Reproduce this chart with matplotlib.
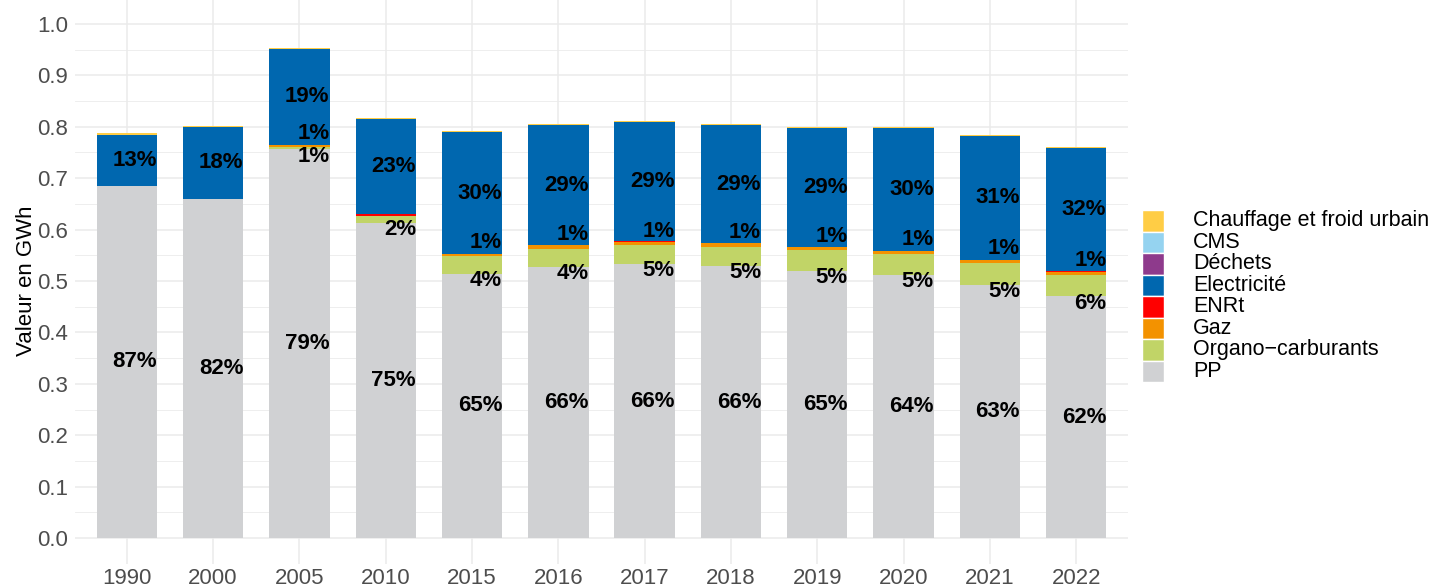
import numpy as np
import matplotlib
matplotlib.use("Agg")
import matplotlib.pyplot as plt
from matplotlib.patches import Rectangle

plt.rcParams['font.family'] = ['Liberation Sans', 'DejaVu Sans']

# data (GWh)
years = ['1990', '2000', '2005', '2010', '2015', '2016', '2017', '2018', '2019', '2020', '2021', '2022']
pp = [0.685, 0.659, 0.756, 0.613, 0.514, 0.527, 0.533, 0.529, 0.519, 0.512, 0.492, 0.470]
organo = [0.0, 0.001, 0.004, 0.014, 0.034, 0.035, 0.037, 0.038, 0.041, 0.041, 0.043, 0.042]
gaz = [0.0, 0.0, 0.005, 0.0, 0.005, 0.008, 0.005, 0.006, 0.006, 0.006, 0.006, 0.006]
enrt = [0.0, 0.0, 0.0, 0.003, 0.0, 0.0, 0.002, 0.0, 0.0, 0.0, 0.0, 0.002]
elec = [0.100, 0.140, 0.186, 0.186, 0.236, 0.233, 0.233, 0.231, 0.232, 0.239, 0.241, 0.238]
dechets = [0.0] * 12
cms = [0.0] * 12
chauffage = [0.002] * 12

# percentage labels as printed on the chart
pct_pp = [87, 82, 79, 75, 65, 66, 66, 66, 65, 64, 63, 62]
pct_organo = [None, None, 1, 2, 4, 4, 5, 5, 5, 5, 5, 6]
pct_gaz = [None, None, 1, None, 1, 1, 1, 1, 1, 1, 1, 1]
pct_elec = [13, 18, 19, 23, 30, 29, 29, 29, 29, 30, 31, 32]

series = [
    ("PP", pp, "#D0D1D3"),
    ("Organo\u2212carburants", organo, "#C1D467"),
    ("Gaz", gaz, "#F39200"),
    ("ENRt", enrt, "#FF0000"),
    ("Electricit\u00e9", elec, "#0067AF"),
    ("D\u00e9chets", dechets, "#8E3A8C"),
    ("CMS", cms, "#95D3F0"),
    ("Chauffage et froid urbain", chauffage, "#FFCD45"),
]

W, H = 1435, 586
fig = plt.figure(figsize=(W / 100, H / 100), dpi=100)
ax = fig.add_axes([75 / W, 22.3 / H, 1053 / W, 565.4 / H])

x = np.arange(len(years))
width = 0.7
bottom = np.zeros(len(years))
tops = {}
for name, vals, col in series:
    vals = np.array(vals)
    ax.bar(x, vals, width, bottom=bottom, color=col, linewidth=0, zorder=2)
    tops[name] = bottom + vals
    bottom = bottom + vals

# labels, right aligned on the bar edge
lab_kw = dict(ha='right', fontsize=16, fontweight='bold', color='black', zorder=3)
xr = x + width / 2
for i in range(len(years)):
    ax.text(xr[i], pp[i] / 2, f"{pct_pp[i]}%", va='center', **lab_kw)
    base_e = tops["ENRt"][i]
    ax.text(xr[i], base_e + elec[i] / 2, f"{pct_elec[i]}%", va='center', **lab_kw)
    if pct_organo[i]:
        ax.text(xr[i], pp[i] - 0.013, f"{pct_organo[i]}%", va='center', **lab_kw)
    if pct_gaz[i]:
        ax.text(xr[i], tops["Gaz"][i] + 0.001, f"{pct_gaz[i]}%", va='bottom', **lab_kw)

ax.set_xlim(-0.6, len(years) - 0.4)
ax.set_ylim(-0.05, 1.05)
ax.set_xticks(x)
ax.set_xticklabels(years)
ax.set_yticks(np.arange(0, 1.01, 0.1))
ax.set_yticklabels([f"{v:.1f}" for v in np.arange(0, 1.01, 0.1)])
ax.set_yticks(np.arange(0.05, 1.0, 0.1), minor=True)
ax.tick_params(axis='both', which='both', length=0, labelsize=16, labelcolor='#4D4D4D')
ax.tick_params(axis='x', pad=3)
ax.tick_params(axis='y', pad=5)
ax.grid(True, which='major', color='#EBEBEB', linewidth=1.1, zorder=0)
ax.grid(True, which='minor', axis='y', color='#EBEBEB', linewidth=0.6, zorder=0)
ax.set_axisbelow(True)
for s in ax.spines.values():
    s.set_visible(False)
ax.set_ylabel("Valeur en GWh", fontsize=16, color='black', labelpad=0)

# legend drawn by hand, ggplot style
lx0, ly0, lx1, ly1 = 1142, 210, 1435, 382
lax = fig.add_axes([lx0 / W, (H - ly1) / H, (lx1 - lx0) / W, (ly1 - ly0) / H])
lax.set_xlim(0, lx1 - lx0)
lax.set_ylim(0, len(series))
lax.axis('off')
for k, (name, vals, col) in enumerate(reversed(series)):
    row = len(series) - 1 - k
    lax.add_patch(Rectangle((0, row), 22, 1, facecolor=col, edgecolor='white', linewidth=1))
    lax.text(51, row + 0.5, name, va='center', ha='left', fontsize=15.5, color='black')

fig.savefig("out.png", dpi=100)
